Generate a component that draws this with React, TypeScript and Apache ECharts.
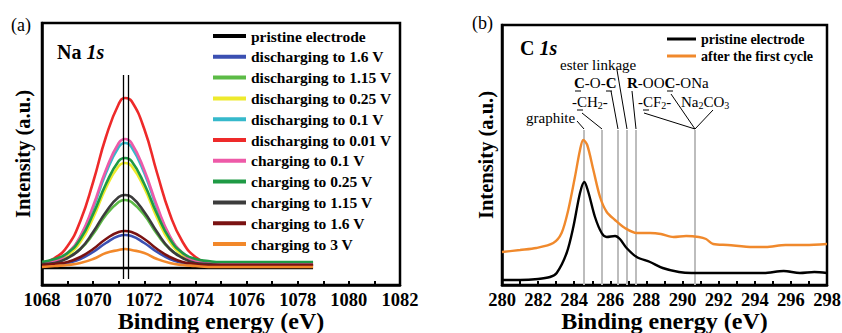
import React, { useEffect, useRef } from 'react';
import * as echarts from 'echarts';

// ---------- Panel (a): Na 1s ----------
const naEnergy = [1068, 1068.5, 1069, 1069.5, 1070, 1070.5, 1071, 1071.25, 1071.5, 1072, 1072.5, 1073, 1073.5, 1074, 1074.5, 1075, 1076, 1077, 1078, 1078.6];
const naPristine = [17, 17, 17, 17, 17, 17, 17, 17, 17, 17, 17, 17, 17, 17, 17, 17, 17, 17, 17, 17];
const naDis16 = [19, 20, 22, 26, 33, 42, 49, 50, 49, 42, 33, 26, 22, 20, 19, 19, 19, 19, 19, 19];
const naDis115 = [23, 24, 28, 36, 51, 70, 83, 85, 83, 70, 51, 36, 28, 24, 23, 22, 22, 22, 22, 22];
const naDis025 = [21, 24, 30, 43, 67, 97, 119, 122, 119, 97, 67, 43, 30, 24, 21, 20, 20, 20, 20, 20];
const naDis01 = [21, 24, 32, 48, 77, 112, 138, 142, 138, 112, 77, 48, 32, 24, 21, 20, 20, 20, 20, 20];
const naDis001 = [22, 27, 39, 64, 103, 148, 181, 187, 184, 156, 112, 71, 43, 28, 22, 20, 20, 20, 20, 20];
const naCh01 = [22, 24, 32, 49, 79, 115, 142, 146, 142, 115, 79, 49, 32, 24, 22, 21, 21, 21, 21, 21];
const naCh025 = [23, 26, 32, 46, 71, 101, 124, 127, 124, 101, 71, 46, 32, 26, 24, 23, 23, 23, 23, 23];
const naCh115 = [21, 22, 27, 36, 53, 73, 88, 90, 88, 73, 53, 36, 27, 22, 21, 20, 20, 20, 20, 20];
const naCh16 = [20, 21, 23, 28, 36, 46, 53, 54, 53, 46, 36, 28, 23, 21, 20, 20, 20, 20, 20, 20];
const naCh3 = [18, 19, 20, 22, 26, 32, 35, 36, 35, 32, 26, 22, 20, 19, 18, 18, 18, 18, 18, 18];

const naNames = [
  'pristine electrode',
  'discharging to 1.6 V',
  'discharging to 1.15 V',
  'discharging to 0.25 V',
  'discharging to 0.1 V',
  'discharging to 0.01 V',
  'charging to 0.1 V',
  'charging to 0.25 V',
  'charging to 1.15 V',
  'charging to 1.6 V',
  'charging to 3 V',
];
const naValues = [naPristine, naDis16, naDis115, naDis025, naDis01, naDis001, naCh01, naCh025, naCh115, naCh16, naCh3];
const naColors = ['#000000', '#3b50b2', '#5cbb46', '#eeea2c', '#36b9cb', '#ee2a2a', '#ee5aa8', '#1f9a45', '#3c3c3c', '#7a1212', '#f2882a'];
const naRefLines = [1071.19, 1071.37];

// ---------- Panel (b): C 1s ----------
const c1sPristineEnergy = [280, 281, 282, 282.66, 283.03, 283.58, 283.95, 284.32, 284.56, 284.78, 285.15, 285.52, 285.8, 286.26, 286.53, 286.9, 287.46, 288.2, 288.9, 289.8, 290.5, 291.5, 292.5, 293.5, 294.5, 295.6, 296.5, 297.3, 298];
const c1sPristine = [5, 5, 6, 8, 12, 32, 58, 92, 103, 93, 68, 52, 48, 49, 46, 37, 28, 23, 17, 13, 12, 12, 12, 12, 12, 14, 12, 13, 12];
const c1sCycledEnergy = [280, 281, 281.9, 282.84, 283.3, 283.67, 284.04, 284.32, 284.5, 284.72, 285.06, 285.43, 285.8, 286.26, 286.81, 287.46, 288.2, 288.8, 289.5, 290.2, 290.9, 291.3, 291.7, 292.5, 293.9, 294.6, 295.7, 296.8, 298];
const c1sCycled = [33, 35, 37, 42, 52, 75, 108, 135, 145, 140, 115, 88, 73, 65, 57, 52, 52, 51, 48, 49, 48, 46, 41, 40, 38, 38, 40, 40, 41];
const c1sNames = ['pristine electrode', 'after the first cycle'];
const c1sColors = ['#000000', '#f0892c'];
const c1sRefLines = [284.54, 285.52, 286.42, 286.92, 287.42, 290.69];
const c1sRefTop = 155;
const naRefBottom = 6;
const naRefTop = 210;

const SERIF = 'Liberation Serif, serif';

const zip = (xs: number[], ys: number[]) => xs.map((x, i) => [x, ys[i]]);

function buildOption(): any {
  const evenLabel = (v: number) => (Math.round(v) % 2 === 0 ? String(v) : '');
  const xAxisBase = {
    type: 'value',
    interval: 1,
    nameLocation: 'middle',
    nameGap: 24,
    nameMoveOverlap: false,
    nameTextStyle: { fontFamily: SERIF, fontWeight: 'bold', fontSize: 24, color: '#000' },
    axisLine: { show: true, lineStyle: { color: '#000', width: 2.5 } },
    axisTick: { show: true, inside: true, length: 4, lineStyle: { color: '#000', width: 2 } },
    axisLabel: { formatter: evenLabel, fontFamily: SERIF, fontWeight: 'bold', fontSize: 18.5, color: '#000', margin: 5, showMinLabel: true, showMaxLabel: true },
    splitLine: { show: false },
  };
  const yAxisBase = {
    type: 'value',
    min: 0,
    name: 'Intensity (a.u.)',
    nameLocation: 'middle',
    nameRotate: 90,
    nameMoveOverlap: false,
    nameTextStyle: { fontFamily: SERIF, fontWeight: 'bold', fontSize: 20.5, color: '#000' },
    axisLine: { show: true, lineStyle: { color: '#000', width: 2.5 } },
    axisTick: { show: false },
    axisLabel: { show: false },
    splitLine: { show: false },
  };

  const naSeries = naNames.map((name, i) => ({
    name,
    type: 'line',
    xAxisIndex: 0,
    yAxisIndex: 0,
    data: zip(naEnergy, naValues[i]),
    smooth: true,
    showSymbol: false,
    symbol: 'none',
    color: naColors[i],
    lineStyle: { width: 2.6, color: naColors[i] },
  }));

  const naRefSeries = {
    name: 'na-ref',
    type: 'line',
    xAxisIndex: 0,
    yAxisIndex: 0,
    data: [],
    silent: true,
    markLine: {
      silent: true,
      symbol: ['none', 'none'],
      label: { show: false },
      lineStyle: { color: '#000', width: 1.3, type: 'solid' },
      data: naRefLines.map((e) => [{ coord: [e, naRefBottom] }, { coord: [e, naRefTop] }]),
    },
  };

  const c1sRefSeries = {
    name: 'c1s-ref',
    type: 'line',
    xAxisIndex: 1,
    yAxisIndex: 1,
    data: [],
    silent: true,
    markLine: {
      silent: true,
      z: 1,
      symbol: ['none', 'none'],
      label: { show: false },
      lineStyle: { color: '#bdbdbd', width: 2, type: 'solid' },
      data: c1sRefLines.map((e) => [{ coord: [e, 0] }, { coord: [e, c1sRefTop] }]),
    },
  };

  const c1sSeries = [0, 1].map((i) => ({
    name: c1sNames[i],
    type: 'line',
    xAxisIndex: 1,
    yAxisIndex: 1,
    data: i === 0 ? zip(c1sPristineEnergy, c1sPristine) : zip(c1sCycledEnergy, c1sCycled),
    smooth: 0.3,
    showSymbol: false,
    symbol: 'none',
    color: c1sColors[i],
    lineStyle: { width: 2.4, color: c1sColors[i] },
    z: 3,
  }));

  const txt = (x: number, y: number, text: string, fontSize: number, extra: any = {}) => ({
    type: 'text',
    x,
    y,
    z: 100,
    style: {
      text,
      fill: '#000',
      font: `${fontSize}px ${SERIF}`,
      verticalAlign: 'middle',
      align: 'left',
      ...extra,
    },
  });
  const ln = (x1: number, y1: number, x2: number, y2: number, w = 1) => ({
    type: 'line',
    z: 100,
    shape: { x1, y1, x2, y2 },
    style: { stroke: '#000', lineWidth: w },
  });

  const annRich = {
    b: { fontFamily: SERIF, fontWeight: 'bold', fontSize: 15, color: '#000' },
    r: { fontFamily: SERIF, fontSize: 15, color: '#000' },
    s: { fontFamily: SERIF, fontSize: 10, color: '#000', verticalAlign: 'bottom', padding: [6, 0, 0, 0] },
  };
  const rich = (x: number, y: number, text: string) => ({
    type: 'text',
    x,
    y,
    z: 100,
    style: { text, rich: annRich, verticalAlign: 'middle', align: 'left', fill: '#000', font: `15px ${SERIF}` },
  });

  const titleRich = {
    b: { fontFamily: SERIF, fontWeight: 'bold', fontSize: 20, color: '#000' },
    bi: { fontFamily: SERIF, fontWeight: 'bold', fontStyle: 'italic', fontSize: 20, color: '#000' },
  };

  const graphic = [
    txt(11, 25, '(a)', 18),
    txt(472, 23, '(b)', 18),
    { type: 'text', x: 57, y: 52, z: 100, style: { text: '{b|Na }{bi|1s}', rich: titleRich, verticalAlign: 'middle' } },
    { type: 'text', x: 520, y: 48, z: 100, style: { text: '{b|C }{bi|1s}', rich: titleRich, verticalAlign: 'middle' } },
    // C 1s annotations
    txt(560, 65, 'ester linkage', 15),
    rich(574, 83, '{b|C}{r|-O-}{b|C}'),
    rich(627, 83, '{b|R}{r|-OO}{b|C}{r|-ONa}'),
    rich(572, 102, '{r|-CH}{s|2}{r|-}'),
    rich(638, 102, '{r|-CF}{s|2}{r|-}'),
    rich(681, 102, '{r|Na}{s|2}{r|CO}{s|3}'),
    txt(526, 118, 'graphite', 15),
    // leader lines
    ln(577, 121, 584, 129),
    ln(582, 113, 602, 129),
    ln(611, 91, 618, 129),
    ln(617, 70, 627, 129),
    ln(632, 91, 636, 129),
    ln(644, 113, 695, 129),
    ln(671, 94, 695, 129),
    ln(713, 110, 695, 129),
    // carbon marks
    ln(575, 91, 581, 91),
    ln(606, 91, 612, 91),
    ln(577, 110, 583, 110),
    ln(667, 91, 673, 91),
    ln(643, 110, 649, 110),
  ];

  return {
    animation: false,
    backgroundColor: '#ffffff',
    textStyle: { fontFamily: SERIF },
    grid: [
      { left: 42, top: 23, width: 358, height: 262, show: true, borderColor: '#000', borderWidth: 2.5, containLabel: false, outerBoundsMode: 'none' },
      { left: 502, top: 25, width: 325, height: 260, show: true, borderColor: '#000', borderWidth: 2.5, containLabel: false, outerBoundsMode: 'none' },
    ],
    xAxis: [
      { ...xAxisBase, gridIndex: 0, min: 1068, max: 1082, name: 'Binding energy (eV)' },
      { ...xAxisBase, gridIndex: 1, min: 280, max: 298, name: 'Binding energy (eV)' },
    ],
    yAxis: [
      { ...yAxisBase, gridIndex: 0, max: 262, nameGap: 9 },
      { ...yAxisBase, gridIndex: 1, max: 260, nameGap: 6 },
    ],
    legend: [
      {
        data: naNames,
        orient: 'vertical',
        left: 213,
        top: 28,
        icon: 'rect',
        itemWidth: 33,
        itemHeight: 4,
        itemGap: 4.8,
        selectedMode: false,
        textStyle: { fontFamily: SERIF, fontWeight: 'bold', fontSize: 15.5, lineHeight: 15.5, color: '#000' },
        padding: 0,
      },
      {
        data: c1sNames,
        orient: 'vertical',
        left: 667,
        top: 32,
        icon: 'rect',
        itemWidth: 29,
        itemHeight: 3,
        itemGap: 3,
        selectedMode: false,
        textStyle: { fontFamily: SERIF, fontWeight: 'bold', fontSize: 14, lineHeight: 14, color: '#000' },
        padding: 0,
      },
    ],
    series: [c1sRefSeries, ...naSeries, naRefSeries, ...c1sSeries],
    graphic,
  };
}

export default function App() {
  const ref = useRef<HTMLDivElement>(null);
  useEffect(() => {
    if (!ref.current) return;
    const chart = echarts.init(ref.current, null, { renderer: 'svg' });
    chart.setOption(buildOption());
    return () => chart.dispose();
  }, []);
  return (
    <div
      ref={ref}
      style={{ position: 'fixed', left: 0, top: 0, width: 842, height: 333, background: '#fff' }}
    />
  );
}
